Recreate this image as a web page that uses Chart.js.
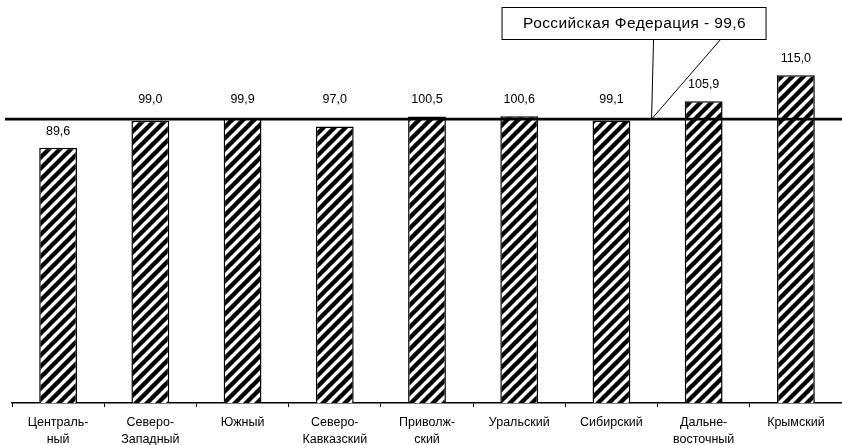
<!DOCTYPE html>
<html>
<head>
<meta charset="utf-8">
<script src="https://cdn.jsdelivr.net/npm/chart.js@4"></script>
<style>
  html, body { margin: 0; padding: 0; background: #fff; }
  #wrap { width: 842px; height: 445px; }
</style>
</head>
<body>
<div id="wrap"><canvas id="chart" width="842" height="445"></canvas></div>
<script>
// Federal districts, index values
const REGIONS = [
  ['Централь-', 'ный'],
  ['Северо-', 'Западный'],
  'Южный',
  ['Северо-', 'Кавказский'],
  ['Приволж-', 'ский'],
  'Уральский',
  'Сибирский',
  ['Дальне-', 'восточный'],
  'Крымский',
];
const VALUES = [89.6, 99.0, 99.9, 97.0, 100.5, 100.6, 99.1, 105.9, 115.0];
const RF_VALUE = 99.6;
const RF_LABEL = 'Российская Федерация - 99,6';
const Y_MIN = 0;
const Y_MAX = 140;

const FONT = "'Liberation Sans', Arial, sans-serif";

// diagonal hatch like the Excel pattern fill
function hatchPattern() {
  const s = 11;
  const c = document.createElement('canvas');
  c.width = s; c.height = s;
  const g = c.getContext('2d');
  g.fillStyle = '#fff';
  g.fillRect(0, 0, s, s);
  g.strokeStyle = '#000';
  g.lineWidth = 4.4;
  g.beginPath();
  g.moveTo(-s, s); g.lineTo(s, -s);
  g.moveTo(0, 2 * s); g.lineTo(2 * s, 0);
  g.moveTo(-s, 2 * s); g.lineTo(2 * s, -s);
  g.stroke();
  return g.createPattern(c, 'repeat');
}

const fmt = v => v.toFixed(1).replace('.', ',');

// value labels above bars; labels of bars touching the RF line sit above it
const valueLabels = {
  id: 'valueLabels',
  afterDatasetsDraw(chart) {
    const ctx = chart.ctx;
    const meta = chart.getDatasetMeta(0);
    const ly = chart.scales.y.getPixelForValue(RF_VALUE);
    ctx.save();
    ctx.font = '12.5px ' + FONT;
    ctx.fillStyle = '#000';
    ctx.textAlign = 'center';
    ctx.textBaseline = 'alphabetic';
    meta.data.forEach((bar, i) => {
      const near = Math.abs(bar.y - ly) < 10;
      const anchor = near ? Math.min(bar.y, ly - 3) : bar.y;
      ctx.fillText(fmt(VALUES[i]), bar.x, anchor - 13);
    });
    ctx.restore();
  }
};

// Russian Federation average line + callout
const rfLine = {
  id: 'rfLine',
  afterDatasetsDraw(chart) {
    const ctx = chart.ctx;
    const area = chart.chartArea;
    const x = chart.scales.x, y = chart.scales.y;
    const ly = y.getPixelForValue(RF_VALUE);
    ctx.save();
    ctx.strokeStyle = '#000';
    ctx.lineWidth = 2.6;
    ctx.beginPath();
    ctx.moveTo(area.left - 7, ly);
    ctx.lineTo(area.right, ly);
    ctx.stroke();

    // callout anchored on the line between Сибирский and Дальне-восточный
    const x6 = x.getPixelForValue(6), x7 = x.getPixelForValue(7);
    const px = x6 + (x7 - x6) * 0.435;
    const bx = px - 150, bw = 264, by = area.top + 3, bh = 32;
    ctx.lineWidth = 1;
    ctx.fillStyle = '#fff';
    ctx.fillRect(bx, by, bw, bh);
    ctx.strokeRect(bx + 0.5, by + 0.5, bw, bh);
    ctx.beginPath();
    ctx.moveTo(px + 2, by + bh + 0.5);
    ctx.lineTo(px, ly);
    ctx.lineTo(px + 69, by + bh + 0.5);
    ctx.stroke();
    ctx.fillStyle = '#000';
    ctx.font = '15.5px ' + FONT;
    ctx.letterSpacing = '0.4px';
    ctx.textAlign = 'center';
    ctx.textBaseline = 'middle';
    ctx.fillText(RF_LABEL, bx + bw / 2 + 1, by + bh / 2 + 1);
    ctx.restore();
  }
};

new Chart(document.getElementById('chart'), {
  type: 'bar',
  data: {
    labels: REGIONS,
    datasets: [{
      data: VALUES,
      backgroundColor: hatchPattern(),
      borderColor: '#000',
      borderWidth: 1.5,
      borderSkipped: 'bottom',
      categoryPercentage: 1,
      barPercentage: 0.41,
    }]
  },
  options: {
    responsive: false,
    animation: false,
    devicePixelRatio: 1,
    layout: { padding: { left: 12, right: 0, top: 4, bottom: 0 } },
    plugins: {
      legend: { display: false },
      tooltip: { enabled: false },
      title: { display: false },
    },
    scales: {
      x: {
        grid: {
          offset: true,
          drawOnChartArea: false,
          drawTicks: true,
          tickLength: 4,
          tickColor: '#000',
          tickWidth: 1,
        },
        border: { display: true, color: '#000', width: 1.5 },
        ticks: {
          color: '#000',
          font: { family: FONT, size: 12.5, lineHeight: 1.35 },
          maxRotation: 0,
          autoSkip: false,
          padding: 7,
        },
        afterFit(scale) { scale.height = 42; }
      },
      y: {
        display: false,
        min: Y_MIN,
        max: Y_MAX,
      }
    }
  },
  plugins: [valueLabels, rfLine]
});
</script>
</body>
</html>
